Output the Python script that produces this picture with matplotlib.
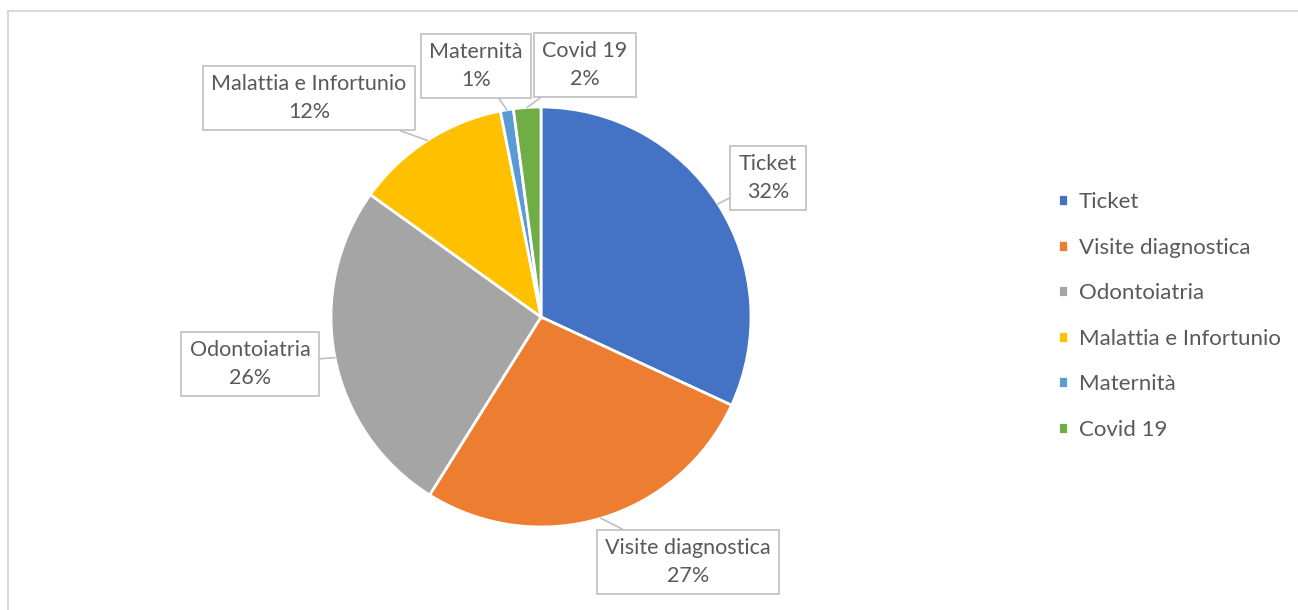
import matplotlib
matplotlib.use("Agg")
import matplotlib.pyplot as plt
import numpy as np
from matplotlib.lines import Line2D

categories = ['Ticket', 'Visite diagnostica', 'Odontoiatria', 'Malattia e Infortunio', 'Maternità', 'Covid 19']
values = [31.9, 27.0, 26.0, 12.0, 1.0, 2.1]
colors = ['#4472c4', '#ed7d31', '#a5a5a5', '#ffc000', '#5b9bd5', '#70ad47']

W, H = 1298, 610
plt.rcParams['font.family'] = ['Lato', 'DejaVu Sans']
text_color = '#595959'
line_color = '#bfbfbf'

fig = plt.figure(figsize=(W / 100, H / 100), dpi=100)
ax = fig.add_axes([0, 0, 1, 1])


def py(y):
    # pixel row (from top) -> data y
    return H - y


cx, cy, r = 541, py(317), 210
wedges, _ = ax.pie(values, colors=colors, startangle=90, counterclock=False,
                   center=(cx, cy), radius=r, frame=True,
                   wedgeprops=dict(edgecolor='white', linewidth=2))
ax.set_xlim(0, W)
ax.set_ylim(0, H)
ax.set_aspect('equal')
ax.axis('off')

# data label boxes (box centre in pixels)
box_pos = [(768, 178), (688, 562), (250, 364), (309, 98), (476, 66), (585, 65)]
total = sum(values)
cum = np.cumsum([0] + values)
for i, name in enumerate(categories):
    mid = 90 - 360 * (cum[i] + values[i] / 2) / total
    ax_pt = (cx + r * np.cos(np.radians(mid)), cy + r * np.sin(np.radians(mid)))
    bx, by = box_pos[i]
    pct = round(100 * values[i] / total)
    ax.annotate(f'{name}\n{pct}%', xy=ax_pt, xytext=(bx, py(by)),
                ha='center', va='center', fontsize=15.5, color=text_color,
                linespacing=1.45,
                bbox=dict(boxstyle='square,pad=0.4', fc='white', ec=line_color, lw=1.2),
                arrowprops=dict(arrowstyle='-', color=line_color, lw=1.2,
                                shrinkA=0, shrinkB=0))

leg = ax.legend(wedges, categories, loc='upper left', bbox_to_anchor=(1058 / W, 1 - 192 / H),
                frameon=False, fontsize=16, handlelength=0.45, handleheight=0.45,
                handletextpad=0.5, labelspacing=1.15, borderaxespad=0, borderpad=0)
for t in leg.get_texts():
    t.set_color(text_color)

# chart area border (top and left visible)
fig.add_artist(Line2D([8 / W, 1], [1 - 11 / H, 1 - 11 / H], color='#d9d9d9', lw=1.5))
fig.add_artist(Line2D([8 / W, 8 / W], [0, 1 - 11 / H], color='#d9d9d9', lw=1.5))

fig.savefig('out.png', dpi=100, facecolor='white')
